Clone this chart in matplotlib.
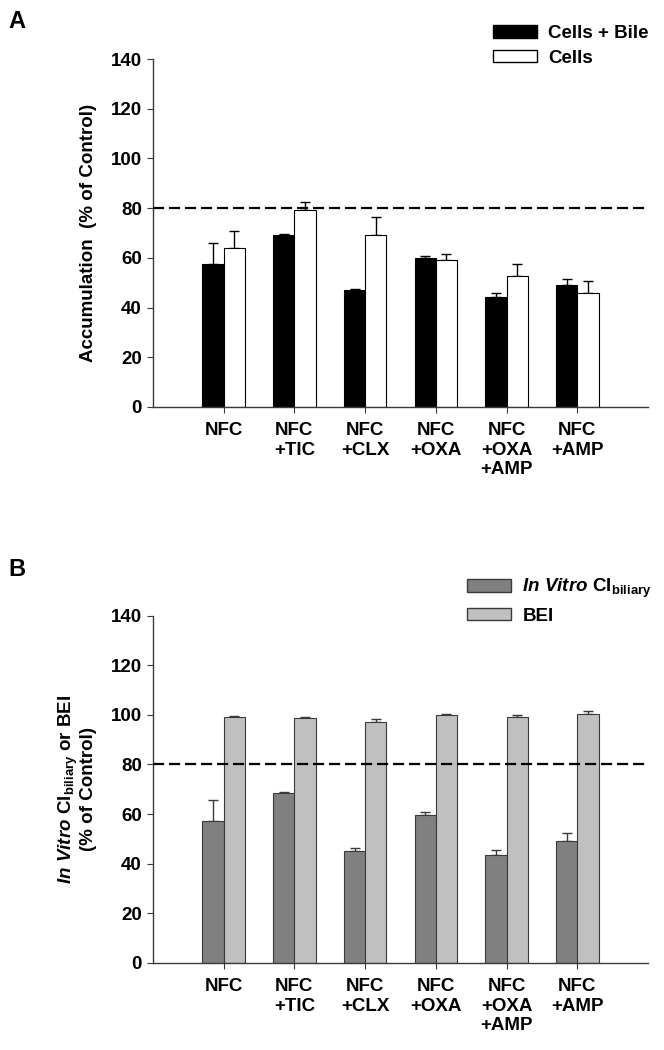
import numpy as np
import matplotlib.pyplot as plt
from matplotlib.patches import Patch

plt.rcParams['font.family'] = ['Liberation Sans', 'DejaVu Sans']
plt.rcParams['font.weight'] = 'bold'
plt.rcParams['mathtext.fontset'] = 'custom'
plt.rcParams['mathtext.rm'] = 'Liberation Sans:bold'
plt.rcParams['mathtext.it'] = 'Liberation Sans:italic:bold'
plt.rcParams['mathtext.bf'] = 'Liberation Sans:bold'

groups = ['NFC', 'NFC\n+TIC', 'NFC\n+CLX', 'NFC\n+OXA', 'NFC\n+OXA\n+AMP', 'NFC\n+AMP']

# panel A
cells_bile = [57.5, 69.1, 46.9, 59.8, 44.2, 49.0]
cells_bile_err = [8.5, 0.6, 0.7, 0.9, 1.8, 2.6]
cells = [64.0, 79.1, 69.3, 59.3, 52.6, 45.9]
cells_err = [6.9, 3.2, 7.0, 2.4, 4.9, 4.9]

# panel B
cl_biliary = [57.0, 68.3, 45.2, 59.6, 43.6, 49.2]
cl_biliary_err = [8.8, 0.4, 1.2, 1.3, 2.0, 3.0]
bei = [99.2, 98.8, 97.0, 99.8, 99.0, 100.5]
bei_err = [0.3, 0.3, 1.2, 0.7, 0.8, 1.0]

fs = 13.5
fig = plt.figure(figsize=(6.64, 10.5), dpi=100)
axA = fig.add_axes([0.2304, 0.6124, 0.7456, 0.3314])
axB = fig.add_axes([0.2304, 0.0831, 0.7456, 0.3305])

x = np.arange(len(groups))
w = 0.3
spine_col = '#3a3a3a'


def panel(ax, v1, e1, v2, e2, c1, c2, ec):
    ax.bar(x - w / 2, v1, w, color=c1, edgecolor=ec, linewidth=0.8, zorder=2)
    ax.bar(x + w / 2, v2, w, color=c2, edgecolor=ec, linewidth=0.8, zorder=2)
    ax.errorbar(x - w / 2, v1, yerr=[np.zeros(len(v1)), e1], fmt='none',
                ecolor=ec, elinewidth=1, capsize=3.6, capthick=1, zorder=1)
    ax.errorbar(x + w / 2, v2, yerr=[np.zeros(len(v2)), e2], fmt='none',
                ecolor=ec, elinewidth=1, capsize=3.6, capthick=1, zorder=1)
    ax.axhline(80, color='black', linestyle=(0, (5, 2.2)), linewidth=1.6, zorder=3)
    ax.set_xlim(-1, 6)
    ax.set_ylim(0, 140)
    ax.set_yticks(np.arange(0, 141, 20))
    ax.set_xticks(x)
    ax.set_xticklabels(groups, fontsize=fs, fontweight='bold', linespacing=1.2)
    ax.tick_params(axis='y', labelsize=fs, length=4, width=0.8, color=spine_col, pad=4)
    ax.tick_params(axis='x', length=4, width=0.8, color=spine_col, pad=7)
    for lab in ax.get_yticklabels():
        lab.set_fontweight('bold')
    for s in ['top', 'right']:
        ax.spines[s].set_visible(False)
    for s in ['left', 'bottom']:
        ax.spines[s].set_color(spine_col)
        ax.spines[s].set_linewidth(1)


panel(axA, cells_bile, cells_bile_err, cells, cells_err, 'black', 'white', 'black')
panel(axB, cl_biliary, cl_biliary_err, bei, bei_err, '#808080', '#c0c0c0', '#3a3a3a')

axA.set_ylabel('Accumulation  (% of Control)', fontsize=fs, fontweight='bold', labelpad=10)
axB.set_ylabel('$\\mathit{In\\ Vitro}$ Cl$_{\\mathrm{biliary}}$ or BEI\n(% of Control)',
               fontsize=fs, fontweight='bold', labelpad=10, linespacing=1.0)

legA = [Patch(facecolor='black', edgecolor='black', label='Cells + Bile'),
        Patch(facecolor='white', edgecolor='black', label='Cells')]
fig.legend(handles=legA, loc='upper left', bbox_to_anchor=(0.7425, 0.976),
           frameon=False, prop={'weight': 'bold', 'size': fs},
           borderpad=0, borderaxespad=0,
           handlelength=2.35, handleheight=0.64, handletextpad=0.6, labelspacing=0.4)

legB = [Patch(facecolor='#808080', edgecolor='#3a3a3a', label='$\\mathit{In\\ Vitro}$ Cl$_{\\mathrm{biliary}}$'),
        Patch(facecolor='#c0c0c0', edgecolor='#3a3a3a', label='BEI')]
fig.legend(handles=legB, loc='upper left', bbox_to_anchor=(0.7035, 0.4505),
           frameon=False, prop={'weight': 'bold', 'size': fs},
           borderpad=0, borderaxespad=0,
           handlelength=2.35, handleheight=0.64, handletextpad=0.6, labelspacing=0.4)

fig.text(0.012, 0.9905, 'A', fontsize=17, fontweight='bold', va='top')
fig.text(0.012, 0.4686, 'B', fontsize=17, fontweight='bold', va='top')

fig.savefig('out.png', dpi=100)
